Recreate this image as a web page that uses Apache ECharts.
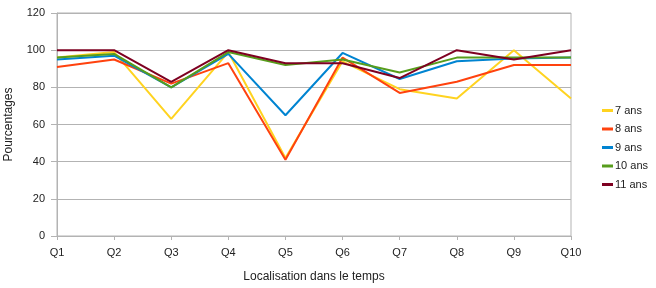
<!DOCTYPE html>
<html>
<head>
<meta charset="utf-8">
<script src="https://cdn.jsdelivr.net/npm/echarts@6/dist/echarts.min.js"></script>
<style>
  html, body { margin: 0; padding: 0; background: #fff; }
  #main { width: 656px; height: 288px; }
</style>
</head>
<body>
<div id="main"></div>
<script>
const categories = ["Q1", "Q2", "Q3", "Q4", "Q5", "Q6", "Q7", "Q8", "Q9", "Q10"];
const seriesNames = ["7 ans", "8 ans", "9 ans", "10 ans", "11 ans"];
const ans7 = [96, 99, 63, 99, 42, 94, 79, 74, 100, 74];
const ans8 = [91, 95, 82, 93, 41, 96, 77, 83, 92, 92];
const ans9 = [95, 97, 80, 98, 65, 98.5, 84.5, 94, 95.5, 96];
const ans10 = [96, 98, 80, 99, 92, 95, 88, 96, 96, 96];
const ans11 = [100, 100, 83, 100, 93, 93, 85, 100, 95, 100];
const colors = ["#ffd320", "#ff420e", "#0084d1", "#579d1c", "#7e0021"];

const values = [ans7, ans8, ans9, ans10, ans11];
const textStyle = { color: "#222", fontFamily: "Liberation Sans", fontSize: 11 };

const chart = echarts.init(document.getElementById("main"));
chart.setOption({
  animation: false,
  color: colors,
  grid: {
    left: 57, right: 85, top: 13, bottom: 52,
    outerBoundsMode: "none",
    containLabel: false,
    show: true, borderColor: "#b3b3b3", borderWidth: 1
  },
  legend: {
    orient: "vertical",
    left: 597,
    top: 100,
    icon: "rect",
    itemWidth: 11,
    itemHeight: 3,
    itemGap: 7.5,
    textStyle: Object.assign({ padding: [0, 0, 0, -3] }, textStyle),
    data: seriesNames
  },
  xAxis: {
    type: "category",
    data: categories,
    boundaryGap: false,
    name: "Localisation dans le temps",
    nameLocation: "middle",
    nameGap: 35,
    nameTextStyle: Object.assign({}, textStyle, { fontSize: 12 }),
    axisLine: { lineStyle: { color: "#b3b3b3" } },
    axisTick: { show: true, length: 4, lineStyle: { color: "#b3b3b3" } },
    axisLabel: Object.assign({ margin: 11 }, textStyle)
  },
  yAxis: {
    type: "value",
    min: 0, max: 120, interval: 20,
    name: "Pourcentages",
    nameLocation: "middle",
    nameGap: 42,
    nameTextStyle: Object.assign({}, textStyle, { fontSize: 12 }),
    axisLine: { show: true, lineStyle: { color: "#b3b3b3" } },
    axisTick: { show: true, length: 6, lineStyle: { color: "#b3b3b3" } },
    axisLabel: Object.assign({ margin: 12 }, textStyle),
    splitLine: { lineStyle: { color: "#b3b3b3" } }
  },
  series: seriesNames.map((name, i) => ({
    name: name,
    type: "line",
    data: values[i],
    showSymbol: false,
    lineStyle: { width: 2 }
  }))
});
</script>
</body>
</html>
